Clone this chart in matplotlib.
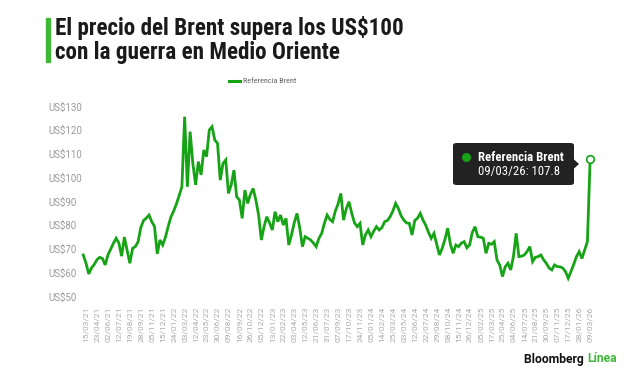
import matplotlib
matplotlib.use("Agg")
import matplotlib.pyplot as plt
import numpy as np
from matplotlib import font_manager
from matplotlib.patches import FancyBboxPatch, Polygon, Rectangle, Ellipse

# Brent reference price, roughly one value per 7 trading days
brent = [
    67.5, 64.0, 59.5, 62.0, 63.5, 65.5, 66.5, 66.0, 63.3, 67.5,
    70.0, 72.4, 74.5, 72.5, 67.0, 75.0, 69.5, 64.0, 70.3, 71.0,
    73.0, 79.0, 82.0, 83.0, 84.3, 81.5, 79.5, 68.0, 73.8, 71.7,
    75.0, 79.5, 83.5, 86.0, 89.0, 92.5, 96.2, 125.7, 96.2, 119.4,
    106.0, 97.0, 106.8, 101.2, 111.7, 108.9, 120.1, 121.5, 115.9, 114.5,
    99.0, 106.0, 107.5, 93.4, 97.0, 103.2, 92.0, 90.6, 82.9, 94.8,
    89.2, 93.0, 95.5, 90.6, 84.3, 73.8, 79.5, 83.6, 81.0, 78.0,
    85.7, 81.5, 84.3, 80.1, 82.9, 71.7, 75.9, 81.0, 85.0, 79.0,
    71.0, 75.2, 74.5, 73.8, 72.5, 71.0, 74.5, 76.5, 80.8, 84.3,
    82.5, 81.5, 86.0, 89.0, 93.4, 82.2, 87.0, 89.9, 85.0, 81.0,
    79.4, 80.8, 71.7, 76.0, 78.0, 75.2, 77.5, 79.4, 78.0, 79.0,
    81.5, 82.0, 83.6, 86.0, 89.2, 87.1, 84.0, 82.2, 81.0, 80.8,
    75.9, 82.0, 83.0, 85.0, 82.2, 80.0, 77.0, 74.5, 76.6, 72.0,
    67.5, 70.3, 74.0, 78.8, 72.0, 68.2, 71.7, 71.0, 72.5, 73.1,
    70.5, 71.7, 77.0, 79.4, 75.2, 75.0, 74.5, 68.2, 72.4, 72.0,
    73.1, 65.4, 63.3, 58.4, 62.5, 64.0, 61.2, 66.8, 76.6, 66.8,
    67.0, 67.5, 69.0, 71.0, 64.7, 66.5, 66.8, 67.5, 65.5, 64.0,
    62.0, 61.2, 63.3, 62.6, 62.5, 62.0, 60.5, 57.7, 60.5, 63.5,
    66.8, 68.9, 66.0, 69.6, 73.1, 107.8,
]

date_labels = [
    "15/03/21", "23/04/21", "02/06/21", "12/07/21", "19/08/21", "28/09/21",
    "05/11/21", "15/12/21", "24/01/22", "03/03/22", "12/04/22", "23/05/22",
    "30/06/22", "09/08/22", "16/09/22", "26/10/22", "05/12/22", "13/01/23",
    "22/02/23", "03/04/23", "12/05/23", "21/06/23", "31/07/23", "07/09/23",
    "17/10/23", "24/11/23", "05/01/24", "14/02/24", "25/03/24", "03/05/24",
    "12/06/24", "22/07/24", "29/08/24", "08/10/24", "15/11/24", "26/12/24",
    "05/02/25", "17/03/25", "25/04/25", "04/06/25", "14/07/25", "21/08/25",
    "30/09/25", "07/11/25", "17/12/25", "28/01/26", "09/03/26",
]

y_ticks = [50, 60, 70, 80, 90, 100, 110, 120, 130]
last_label = "09/03/26"
last_value = 107.8

GREEN = "#16a316"
BAR_GREEN = "#3fb83a"

available = {f.name for f in font_manager.fontManager.ttflist}


def pick(*names):
    for n in names:
        if n in available:
            return n
    return "DejaVu Sans"


narrow = pick("Liberation Sans Narrow", "Roboto Condensed", "Roboto")
plain = pick("Roboto", "Liberation Sans")

W, H = 640, 376
fig = plt.figure(figsize=(W / 100, H / 100), dpi=100)


def fx(px):
    return px / W


def fy(py):
    return 1 - py / H


ax = fig.add_axes([fx(80), fy(300), fx(520), 200 / H])

x = np.arange(len(brent)) - 1
ax.plot(x, brent, color=GREEN, lw=2.0, solid_joinstyle="miter")
ax.plot([x[-1]], [last_value], marker="o", ms=5.5, mfc="white", mec=GREEN, mew=1.2)

ax.set_xlim(-2.19, 187.6)
ax.set_ylim(48.53, 132.74)

tick_pos = np.arange(len(date_labels)) * 4
ax.set_xticks(tick_pos)
ax.set_xticklabels(date_labels, rotation=90, fontsize=6, color="#aaaaaa", family=plain)
ax.tick_params(axis="x", length=0, pad=30)
plt.setp(ax.get_xticklabels(), va="bottom")

ax.set_yticks(y_ticks)
ax.set_yticklabels([f"US${v}" for v in y_ticks], fontsize=7, color="#999999", family=plain)
ax.tick_params(axis="y", length=0, pad=23)
plt.setp(ax.get_yticklabels(), ha="left")

for s in ax.spines.values():
    s.set_visible(False)

# title with green bar
fig.patches.append(Rectangle((fx(45.5), fy(61.5)), fx(4.5), 43.5 / H,
                             transform=fig.transFigure, color=BAR_GREEN))
fig.text(fx(55), fy(35), "El precio del Brent supera los US$100", fontsize=16.7,
         fontweight="bold", family=narrow, color="#1a1a1a", va="baseline")
fig.text(fx(55), fy(59), "con la guerra en Medio Oriente", fontsize=16.7,
         fontweight="bold", family=narrow, color="#1a1a1a", va="baseline")

# legend
fig.lines.append(plt.Line2D([fx(229), fx(240)], [fy(81), fy(81)], transform=fig.transFigure,
                            color=GREEN, lw=2.2))
fig.text(fx(243), fy(81), "Referencia Brent", fontsize=5.9, family=narrow,
         color="#666666", va="center")

# tooltip
box = FancyBboxPatch((fx(453), fy(185)), fx(121), 42 / H,
                     boxstyle="round,pad=0,rounding_size=0.006",
                     transform=fig.transFigure, fc="#222222", ec="none")
fig.patches.append(box)
fig.patches.append(Polygon([[fx(573.5), fy(159)], [fx(579), fy(164)], [fx(573.5), fy(169)]],
                           closed=True, transform=fig.transFigure, fc="#222222", ec="none"))
fig.patches.append(Ellipse((fx(466.5), fy(157.5)), 9 / W, 9 / H, transform=fig.transFigure,
                           fc=GREEN, ec="none"))
fig.text(fx(478.5), fy(161), "Referencia Brent", fontsize=9.2, fontweight="bold",
         family=narrow, color="white", va="baseline")
fig.text(fx(478.5), fy(175), f"{last_label}: {last_value}", fontsize=9.2,
         family=narrow, color="white", va="baseline")

# logo
t = fig.text(fx(524), fy(359), "Bloomberg ", fontsize=8.7, fontweight="bold",
             family=plain, color="#111111", va="center")
fig.canvas.draw()
bb = t.get_window_extent()
fig.text(bb.x1 / W, fy(359), "Línea", fontsize=8.7, fontweight="bold",
         family=plain, color=BAR_GREEN, va="center")

fig.savefig("out.png", dpi=100, facecolor="white")
